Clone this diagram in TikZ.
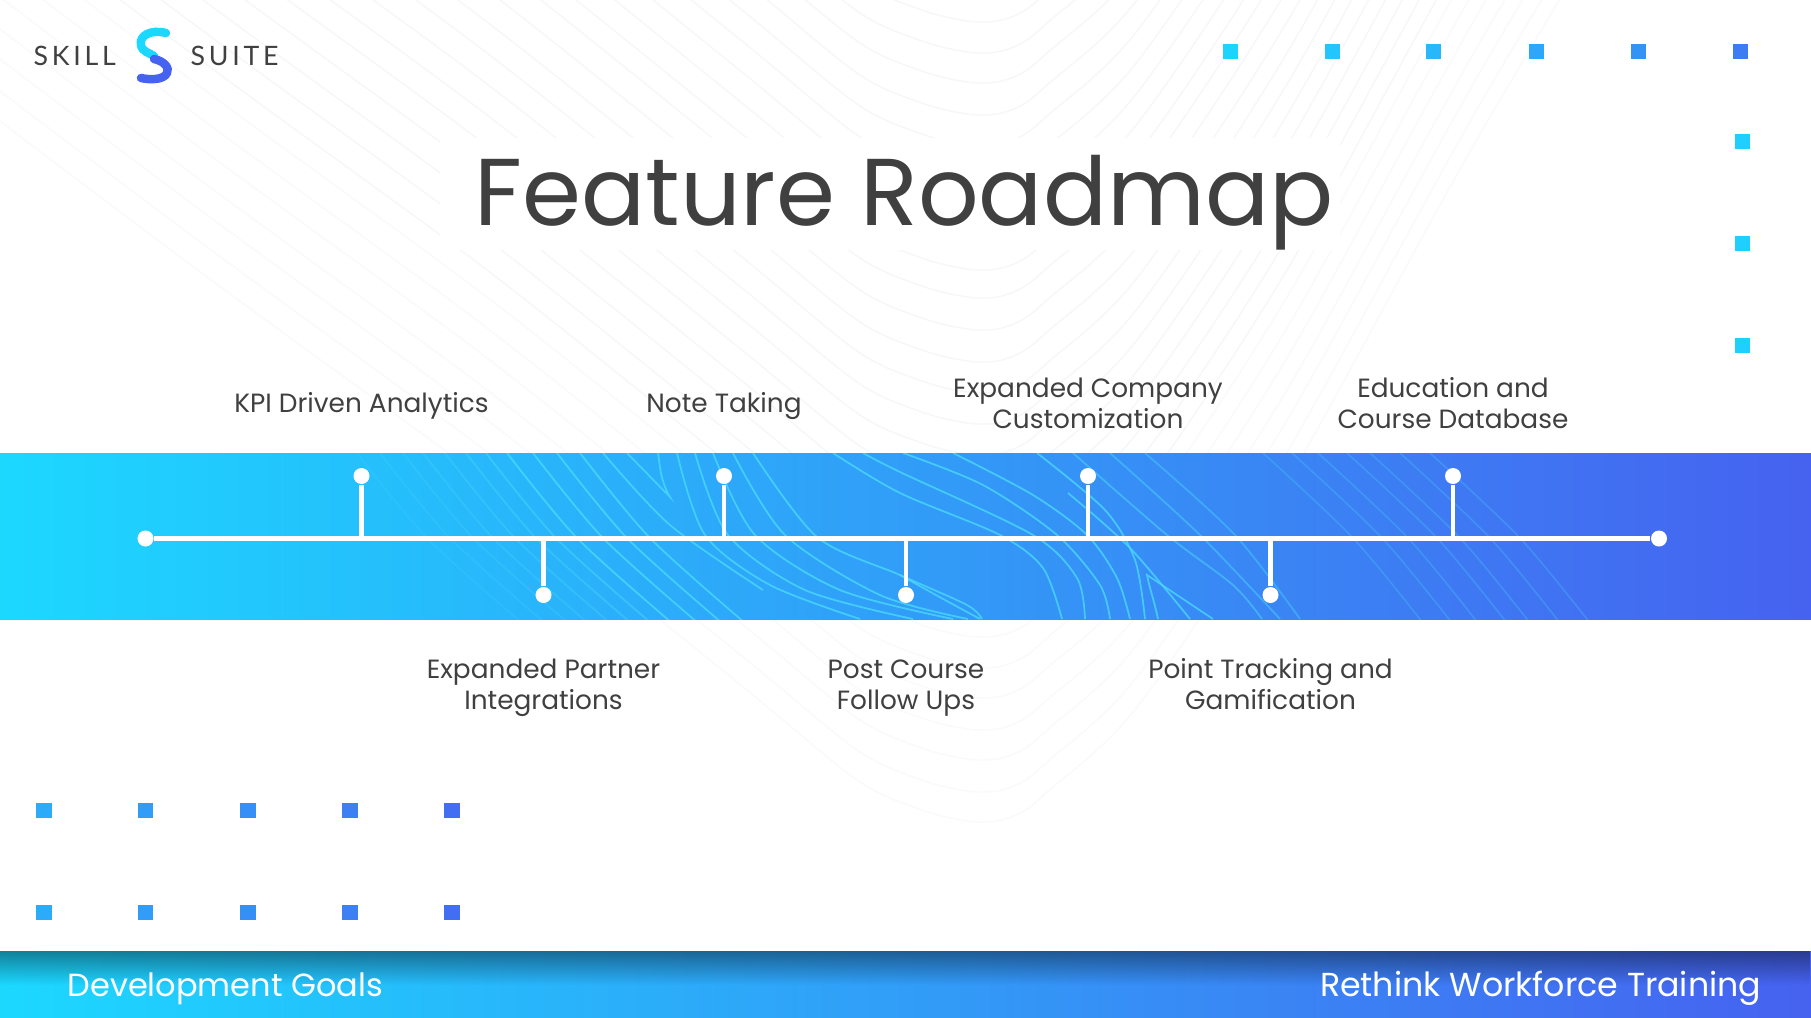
\documentclass[tikz,border=0pt]{standalone}
\usepackage{fontspec}
\setmainfont{Poppins}
\newfontfamily\logofont[LetterSpace=14]{Lato}
\usetikzlibrary{positioning,fadings}
\definecolor{bandL}{HTML}{1CD8FF}
\definecolor{bandR}{HTML}{4662F0}
\definecolor{inkgray}{HTML}{404040}
\definecolor{glowline}{HTML}{4BDCFF}
\definecolor{paleline}{HTML}{F7F7F7}
\definecolor{palerline}{HTML}{FAFAFA}
\begin{document}
\begin{tikzpicture}[x=0.01cm,y=-0.01cm,
hub/.style={circle,fill=white,inner sep=0pt,minimum size=1.6mm},
stem/.style={draw=white,line width=1.15pt},
lbl/.style={align=center,text=inkgray,font=\fontsize{7.5}{8.85}\selectfont},
sq/.style={inner sep=0pt,minimum size=1.5mm},
foot/.style={text=white,inner sep=0pt},
logotxt/.style={text=inkgray,inner sep=0pt,font=\logofont\fontsize{7.6}{9}\selectfont},
contour/.style={draw=glowline,line width=0.5pt,opacity=0.75},
faintc/.style={draw=glowline,line width=0.45pt,opacity=0.25},
ubend/.style={line width=0.4pt}]
\useasboundingbox (0,0) rectangle (1811,1017);
\fill[white] (0,0) rectangle (1811,1017);
% pale lines behind everything
\foreach \yb/\cl in {22/paleline,53/paleline,83/paleline,115/paleline,146/paleline,177/paleline,208/paleline,239/paleline,270/paleline,298/paleline,330/paleline,362/paleline,393/paleline,424/paleline,455/paleline,486/paleline,517/paleline,548/paleline,579/paleline,610/paleline,637/palerline,668/palerline,698/palerline,730/palerline,760/palerline,792/palerline,822/palerline}
  \draw[\cl,ubend,shift={(987,\yb)}] plot[smooth] coordinates {(-1250,-900) (-800,-560) (-500,-340) (-250,-140) (-130,-42) (-65,-12) (-20,-1) (10,-1) (35,-10) (60,-30) (150,-115) (300,-340) (500,-700) (800,-1200)};
\fill[white] (440,138) rectangle (1340,250);
% band
\shade[left color=bandL,right color=bandR] (0,453) rectangle (1811,619);
\begin{scope}
\clip (0,453) rectangle (1811,619);
\foreach \xt/\op in {357/.15,380/.18,403/.2,423/.25,445/.3,466/.35,486/.45}
  \draw[contour,opacity=\op,shift={(\xt,453)}] plot[smooth] coordinates {(0,0) (70,85) (165,170)};
\foreach \xt in {507,533,557,580}
  \draw[contour,shift={(\xt,453)}] plot[smooth] coordinates {(0,0) (70,85) (165,170)};
\draw[contour] plot[smooth] coordinates {(603,453) (670,525) (763,590)};
\draw[contour] (627,453) -- (670,497) .. controls (660,480) and (660,465) .. (658,453);
\draw[contour] plot[smooth] coordinates {(677,453) (705,535) (770,585) (860,619)};
\draw[contour] plot[smooth] coordinates {(695,453) (728,535) (805,590) (913,619)};
\draw[contour] plot[smooth] coordinates {(713,453) (755,535) (840,590) (953,619)};
\draw[contour] plot[smooth] coordinates {(733,453) (785,535) (880,595) (968,619)};
\draw[contour] plot[smooth] coordinates {(753,453) (817,537) (900,575) (967,605) (982,619)};
\draw[contour] plot[smooth] coordinates {(833,453) (900,493) (1000,535) (1043,568) (1062,619)};
\draw[contour] plot[smooth] coordinates {(863,453) (900,472) (1033,535) (1077,578) (1085,619)};
\draw[contour] plot[smooth] coordinates {(903,453) (983,485) (1057,535) (1100,585) (1110,619)};
\draw[contour] plot[smooth] coordinates {(953,453) (1033,495) (1087,535) (1117,578) (1130,619)};
\draw[contour] plot[smooth] coordinates {(1037,453) (1105,510) (1135,560) (1145,619)};
\draw[contour] plot[smooth] coordinates {(1068,493) (1130,548) (1190,619)};
\draw[contour,opacity=.5] plot[smooth] coordinates {(1073,453) (1167,535) (1233,585) (1262,619)};
\draw[contour,opacity=.45] plot[smooth] coordinates {(1110,453) (1200,535) (1280,619)};
\draw[contour,opacity=.4] plot[smooth] coordinates {(1145,453) (1235,535) (1300,619)};
\draw[contour] (1158,619) .. controls (1154,600) and (1150,590) .. (1147,575) -- (1213,619);
\draw[contour] plot[smooth] coordinates {(900,575) (945,600) (980,619)};
\foreach \xt in {1263,1292,1318,1347,1370,1400,1430}
  \draw[faintc,shift={(\xt,453)}] plot[smooth] coordinates {(0,0) (90,85) (160,170)};
\end{scope}
% footer
\shade[left color=bandL,right color=bandR] (0,951) rectangle (1811,1017);
\fill[black,opacity=.4,path fading=south] (0,951) rectangle (1811,985);
% logo
\node[logotxt,anchor=base west] (skill) at (33,65) {SKILL};
\node[logotxt,anchor=base west] (suite) at (190,65) {SUITE};
\draw[bandL,line width=2.4pt,line cap=round] (166,33) .. controls (150,29) and (139,36) .. (141,45) .. controls (142,52) and (150,53) .. (154,56);
\draw[bandR,line width=2.4pt,line cap=round] (154,59) .. controls (164,61) and (170,68) .. (167,73) .. controls (164,80) and (150,80) .. (141,78);
% title
\node[text=inkgray,font=\fontsize{27}{32}\selectfont] (title) at (904,203) {Feature Roadmap};
% squares
\foreach \i/\x/\p in {1/1230/97,2/1332/85,3/1433.5/72,4/1536/58,5/1638/42,6/1740/22}
  \node[sq,fill=bandL!\p!bandR] (top\i) at (\x,51.5) {};
\foreach \i/\y in {1/141,2/243,3/345}
  \node[sq,fill=bandL!92!bandR] (side\i) at (1742,\y) {};
\foreach \y/\r in {810/a,912/b}
  \foreach \i/\x/\p in {1/44/62,2/145.5/50,3/248/38,4/350/25,5/452/10}
    \node[sq,fill=bandL!\p!bandR] (low\r\i) at (\x,\y) {};
% timeline
\node[hub] (start) at (145.5,538.5) {};
\node[hub] (end) at (1659,538.5) {};
\draw[stem] (start) -- (end);
\foreach \n/\x/\t in {kpi/361.5/{KPI Driven Analytics},note/724/{Note Taking},company/1088/{Expanded Company\\Customization},database/1453/{Education and\\Course Database}}{
  \node[hub] (\n) at (\x,476) {};
  \draw[stem] (\n) -- (\n|-start);
  \node[lbl] (\n txt) at (\x,406.5) {\strut\t\strut};
}
\foreach \n/\x/\t in {partner/543.5/{Expanded Partner\\Integrations},followup/906/{Post Course\\Follow Ups},points/1270.5/{Point Tracking and\\Gamification}}{
  \node[hub] (\n) at (\x,595) {};
  \draw[stem] (\n) -- (\n|-start);
  \node[lbl] (\n txt) at (\x,687.5) {\strut\t\strut};
}
% footer text
\node[foot,anchor=base west,font=\fontsize{9.1}{12}\selectfont] (goals) at (67,996) {Development Goals};
\node[foot,anchor=base east,font=\fontsize{9.45}{12}\selectfont] (rethink) at (1762,996) {Rethink Workforce Training};
\end{tikzpicture}
\end{document}
